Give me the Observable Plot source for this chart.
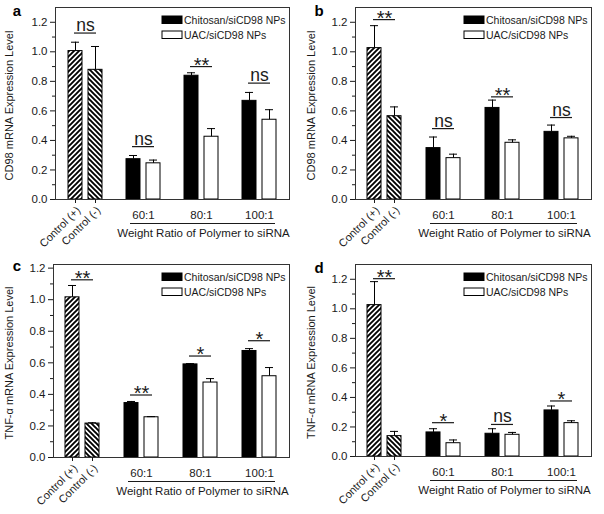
<!DOCTYPE html>
<html><head><meta charset="utf-8">
<script src="https://cdn.jsdelivr.net/npm/d3@7"></script>
<script src="https://cdn.jsdelivr.net/npm/@observablehq/plot@0.6"></script>
<style>
body{margin:0;background:#fff;}
#wrap{position:relative;width:604px;height:514px;overflow:hidden;background:#fff;}
#wrap svg.panel{position:absolute;}
</style></head><body>
<svg width="0" height="0" style="position:absolute">
<defs>
<pattern id="hatchFwd" patternUnits="userSpaceOnUse" width="5" height="5">
<rect width="5" height="5" fill="#fff"/>
<path d="M-1,1 l2,-2 M0,5 l5,-5 M4,6 l2,-2" stroke="#000" stroke-width="1.9"/>
</pattern>
<pattern id="hatchBack" patternUnits="userSpaceOnUse" width="5" height="5">
<rect width="5" height="5" fill="#fff"/>
<path d="M-1,4 l2,2 M0,0 l5,5 M4,-1 l2,2" stroke="#000" stroke-width="1.9"/>
</pattern>
</defs>
</svg>
<div id="wrap"></div>
<script>
// ---------- shared labels ----------
const groups = ["Control", "60:1", "80:1", "100:1"];
const controlLabels = ["Control (+)", "Control (-)"];
const seriesNames = ["Chitosan/siCD98 NPs", "UAC/siCD98 NPs"];
const xTitle = "Weight Ratio of Polymer to siRNA";
const yTicks = [0, 0.2, 0.4, 0.6, 0.8, 1.0, 1.2];
const yMinorTicks = [0.1, 0.3, 0.5, 0.7, 0.9, 1.1];
const yTitleCD98 = "CD98 mRNA Expression Level";
const yTitleTNF = "TNF-α mRNA Expression Level";

// ---------- panel a ----------
const aFirst = [1.005, 0.273, 0.838, 0.668];
const aFirstErr = [0.06, 0.025, 0.02, 0.057];
const aSecond = [0.878, 0.245, 0.425, 0.54];
const aSecondErr = [0.158, 0.022, 0.055, 0.068];
const aSigLabels = ["ns", "ns", "**", "ns"];
const aSigLevels = [1.127, 0.358, 0.90, 0.788];

// ---------- panel b ----------
const bFirst = [1.025, 0.348, 0.62, 0.458];
const bFirstErr = [0.152, 0.075, 0.053, 0.046];
const bSecond = [0.564, 0.28, 0.384, 0.414];
const bSecondErr = [0.063, 0.027, 0.02, 0.014];
const bSigLabels = ["**", "ns", "**", "ns"];
const bSigLevels = [1.218, 0.48, 0.695, 0.555];

// ---------- panel c ----------
const cFirst = [1.015, 0.345, 0.59, 0.675];
const cFirstErr = [0.075, 0.01, 0.005, 0.015];
const cSecond = [0.215, 0.255, 0.475, 0.515];
const cSecondErr = [0.005, 0.004, 0.025, 0.055];
const cSigLabels = ["**", "**", "*", "*"];
const cSigLevels = [1.126, 0.396, 0.643, 0.74];

// ---------- panel d ----------
const dFirst = [1.025, 0.163, 0.154, 0.312];
const dFirstErr = [0.159, 0.025, 0.034, 0.03];
const dSecond = [0.138, 0.09, 0.147, 0.226];
const dSecondErr = [0.032, 0.022, 0.016, 0.016];
const dSigLabels = ["**", "*", "ns", "*"];
const dSigLevels = [1.204, 0.229, 0.217, 0.376];

const FONT = "'Liberation Sans', Arial, sans-serif";
const INK = "#1a1a1a";

function panel(cfg) {
  const first = groups.map((g, i) => ({group: g, value: cfg.first[i], err: cfg.firstErr[i],
    fill: i === 0 ? "url(#hatchFwd)" : "#000"}));
  const second = groups.map((g, i) => ({group: g, value: cfg.second[i], err: cfg.secondErr[i],
    fill: i === 0 ? "url(#hatchBack)" : "#fff"}));
  const sig = groups.map((g, i) => ({group: g, label: cfg.sigLabels[i], level: cfg.sigLevels[i]}));
  const W = 302, H = 257;
  const mL = cfg.marginLeft, mR = 13, mT = 7, mB = cfg.marginBottom;
  const svg = Plot.plot({
    width: W, height: H,
    marginLeft: mL, marginRight: mR, marginTop: mT, marginBottom: mB,
    style: {fontFamily: FONT, color: INK, background: "transparent", overflow: "visible"},
    x: {type: "band", domain: groups, paddingInner: 0.42, paddingOuter: 0.21},
    y: {domain: [0, cfg.yMax]},
    color: {type: "identity"},
    marks: [
      Plot.barY(first, {x: "group", y: "value", fill: "fill", stroke: "#000", strokeWidth: 1, insetRight: 20}),
      Plot.barY(second, {x: "group", y: "value", fill: "fill", stroke: "#000", strokeWidth: 1, insetLeft: 20}),
      Plot.ruleX(first, {x: "group", y1: "value", y2: d => d.value + d.err, dx: -10, stroke: "#000"}),
      Plot.ruleX(second, {x: "group", y1: "value", y2: d => d.value + d.err, dx: 10, stroke: "#000"}),
      Plot.tickY(first, {x: "group", y: d => d.value + d.err, insetLeft: 3, insetRight: 23, stroke: "#000"}),
      Plot.tickY(second, {x: "group", y: d => d.value + d.err, insetLeft: 23, insetRight: 3, stroke: "#000"}),
      // significance brackets
      Plot.tickY(sig, {x: "group", y: "level", insetLeft: 6, insetRight: 6, stroke: INK, strokeWidth: 1.2}),
      Plot.text(sig.filter(d => d.label === "ns"), {x: "group", y: "level", text: "label", lineAnchor: "bottom", dy: -2, fontSize: 17.5, fill: INK}),
      Plot.text(sig.filter(d => d.label !== "ns"), {x: "group", y: "level", text: "label", lineAnchor: "bottom", dy: 5, fontSize: 20, fill: INK}),
      Plot.frame({stroke: "#333", strokeWidth: 1}),
      // y axis
      Plot.axisY({ticks: yTicks, tickFormat: ".1f", tickSize: 5, tickPadding: 3, fontSize: 11.5, label: null, stroke: INK}),
      Plot.axisY({ticks: yMinorTicks, tickFormat: () => "", tickSize: 3, label: null, stroke: INK}),
      Plot.text([cfg.yTitle], {frameAnchor: "left", textAnchor: "middle", lineAnchor: "middle", dx: 9 - mL, dy: 2, rotate: -90, fontSize: 11, fill: INK}),
      // x axis: ratio labels, underline and title
      Plot.axisX({ticks: groups.slice(1), tickSize: 0, tickPadding: 11, fontSize: 11.5, label: null}),
      Plot.ruleY([0], {y: d => d, x1: () => groups[1], x2: () => groups[3], dy: 24, insetLeft: 4, insetRight: 1, stroke: INK}),
      Plot.text([xTitle], {x: () => groups[2], y: 0, dy: 34, dx: 2, fontSize: 11.5, fill: INK}),
      // control ticks and rotated labels
      Plot.ruleX([groups[0]], {x: d => d, y1: 0, y2: 0, dx: -10, insetBottom: -4, stroke: INK}),
      Plot.ruleX([groups[0]], {x: d => d, y1: 0, y2: 0, dx: 10, insetBottom: -4, stroke: INK}),
      Plot.text([controlLabels[0]], {x: () => groups[0], y: 0, dx: -7, dy: 9, rotate: -45, textAnchor: "end", fontSize: 11, fill: INK}),
      Plot.text([controlLabels[1]], {x: () => groups[0], y: 0, dx: 13, dy: 9, rotate: -45, textAnchor: "end", fontSize: 11, fill: INK}),
      // panel letter
      Plot.text([cfg.letter], {frameAnchor: "top-left", textAnchor: "middle", dx: 16.5 - mL, dy: cfg.letterDy, lineAnchor: "bottom", fontSize: 15, fontWeight: "bold", fill: "#000"})
    ]
  });
  // legend
  const g = d3.select(svg).append("g").attr("font-family", FONT).attr("font-size", 10.5)
    .attr("fill", INK).attr("text-anchor", "start");
  const lx = W - mR - 127;
  seriesNames.forEach((name, i) => {
    const y0 = 16 + i * 15;
    g.append("rect").attr("x", lx).attr("y", y0).attr("width", 20).attr("height", 7.5)
      .attr("fill", i === 0 ? "#000" : "#fff").attr("stroke", "#000").attr("stroke-width", 1);
    g.append("text").attr("x", lx + 22).attr("y", y0 + 4).attr("dy", "0.35em").text(name);
  });
  svg.classList.add("panel");
  svg.style.left = cfg.left + "px";
  svg.style.top = cfg.top + "px";
  document.getElementById("wrap").appendChild(svg);
}

panel({letter: "a", yTitle: yTitleCD98, yMax: 1.3, left: 0, top: 0, marginLeft: 55, marginBottom: 58, letterDy: 8,
  first: aFirst, firstErr: aFirstErr, second: aSecond, secondErr: aSecondErr, sigLabels: aSigLabels, sigLevels: aSigLevels});
panel({letter: "b", yTitle: yTitleCD98, yMax: 1.3, left: 302, top: 0, marginLeft: 53, marginBottom: 58, letterDy: 8,
  first: bFirst, firstErr: bFirstErr, second: bSecond, secondErr: bSecondErr, sigLabels: bSigLabels, sigLevels: bSigLevels});
panel({letter: "c", yTitle: yTitleTNF, yMax: 1.223, left: 0, top: 257, marginLeft: 53, marginBottom: 57, letterDy: 6,
  first: cFirst, firstErr: cFirstErr, second: cSecond, secondErr: cSecondErr, sigLabels: cSigLabels, sigLevels: cSigLevels});
panel({letter: "d", yTitle: yTitleTNF, yMax: 1.3, left: 302, top: 257, marginLeft: 53, marginBottom: 58, letterDy: 8,
  first: dFirst, firstErr: dFirstErr, second: dSecond, secondErr: dSecondErr, sigLabels: dSigLabels, sigLevels: dSigLevels});
</script>
</body></html>
